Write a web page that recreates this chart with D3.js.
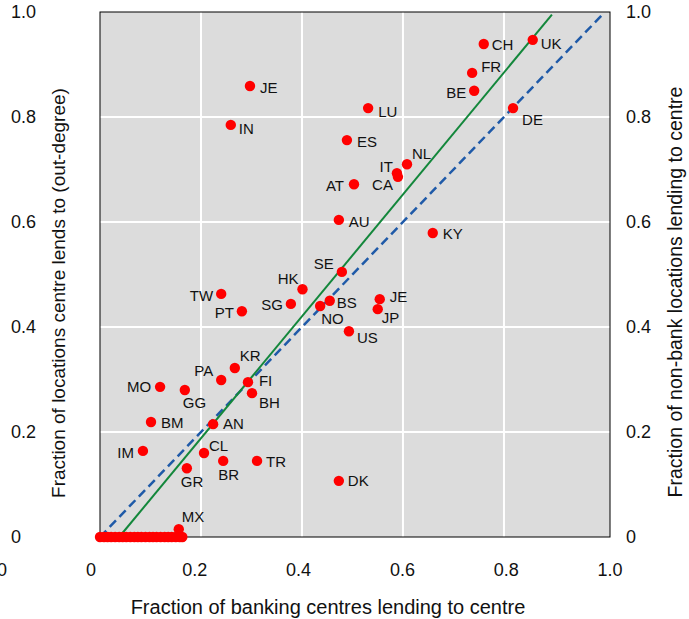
<!DOCTYPE html>
<html>
<head>
<meta charset="utf-8">
<script src="https://cdn.jsdelivr.net/npm/d3@7"></script>
<style>
  body { margin: 0; background: #fff; }
  text { font-family: "Liberation Sans", Arial, sans-serif; fill: #111; }
</style>
</head>
<body>
<svg id="chart" width="689" height="619"></svg>
<script>
// centres with a label
var centres = ["UK","CH","FR","BE","DE","JE","IN","LU","ES","NL","IT","CA","AT","AU","KY",
               "SE","HK","SG","BS","NO","JE","JP","US","TW","PT","KR","PA","FI","BH",
               "MO","GG","BM","AN","IM","CL","BR","TR","GR","DK","MX"];
var banksLending = [0.857,0.760,0.737,0.741,0.818,0.297,0.259,0.531,0.489,0.608,0.588,0.590,0.503,0.473,0.659,
                    0.479,0.401,0.378,0.455,0.436,0.554,0.550,0.493,0.240,0.281,0.267,0.240,0.293,0.301,
                    0.119,0.168,0.101,0.224,0.085,0.206,0.244,0.311,0.172,0.473,0.156];
var outDegree    = [0.947,0.939,0.884,0.850,0.817,0.859,0.785,0.817,0.756,0.710,0.693,0.686,0.672,0.604,0.579,
                    0.505,0.472,0.444,0.450,0.440,0.453,0.434,0.392,0.463,0.430,0.322,0.299,0.295,0.274,
                    0.286,0.280,0.219,0.215,0.164,0.160,0.145,0.145,0.131,0.107,0.015];
// unlabelled centres sitting on the zero line
var zeroBanksLending = [0.000,0.008,0.015,0.022,0.030,0.038,0.045,0.052,0.060,0.068,0.075,0.082,
                        0.090,0.098,0.105,0.112,0.120,0.128,0.135,0.142,0.150,0.158,0.163];
// fitted line and 45-degree line
var fitLine = [[0.038, 0], [0.895, 0.995]];
var diagLine = [[0, 0], [0.995, 0.995]];
var tickValues = [0, 0.2, 0.4, 0.6, 0.8, 1.0];
var tickLabels = ["0", "0.2", "0.4", "0.6", "0.8", "1.0"];

// label offsets [dx, dy, anchor], same order as centres
var labelPos = [[8,4,"start"],[8,1,"start"],[9,-6,"start"],[-8,2,"end"],[9,12,"start"],[10,2,"start"],[8,4,"start"],
  [10,4,"start"],[10,2,"start"],[5,-11,"start"],[-4,-6,"end"],[-5,8,"end"],[-10,2,"end"],[10,2,"start"],[10,1,"start"],
  [-8,-8,"end"],[-4,-10,"end"],[-8,1,"end"],[7,2,"start"],[1,13,"start"],[10,-2,"start"],[4,9,"start"],[8,7,"start"],
  [-8,2,"end"],[-8,1,"end"],[5,-12,"start"],[-8,-9,"end"],[11,-1,"start"],[7,10,"start"],
  [-9,0,"end"],[-2,13,"start"],[10,1,"start"],[10,0,"start"],[-9,2,"end"],[5,-7,"start"],[-5,14,"start"],[9,1,"start"],
  [-6,14,"start"],[9,0,"start"],[3,-12,"start"]];

var svg = d3.select("#chart");
var padL = 100, padR = 610, padT = 12, padB = 537;

var x = d3.scaleLinear().domain([0, 1.01]).range([padL, padR]);
var y = d3.scaleLinear().domain([0, 1]).range([padB, padT]);
var xLab = d3.scaleLinear().domain([0, 1]).range([91, 610]);

// plot background
svg.append("rect")
    .attr("x", padL).attr("y", padT)
    .attr("width", padR - padL).attr("height", padB - padT)
    .attr("fill", "#dcdcdc");

// grid
var inner = tickValues.slice(1, 5);
svg.append("g").selectAll("line").data(inner).enter().append("line")
    .attr("x1", d => x(d)).attr("x2", d => x(d))
    .attr("y1", padT).attr("y2", padB)
    .attr("stroke", "#fff").attr("stroke-width", 2);
svg.append("g").selectAll("line").data(inner).enter().append("line")
    .attr("x1", padL).attr("x2", padR)
    .attr("y1", d => y(d)).attr("y2", d => y(d))
    .attr("stroke", "#fff").attr("stroke-width", 2);

// frame
svg.append("rect")
    .attr("x", padL).attr("y", padT)
    .attr("width", padR - padL).attr("height", padB - padT)
    .attr("fill", "none").attr("stroke", "#000").attr("stroke-width", 1);

// y tick labels, both sides
var yl = svg.append("g");
yl.selectAll("text.l").data(tickValues).enter().append("text")
    .attr("class", "l")
    .attr("x", 11).attr("y", d => y(d)).attr("dy", "0.35em")
    .style("font-size", "18px")
    .text((d, i) => tickLabels[i]);
yl.selectAll("text.r").data(tickValues).enter().append("text")
    .attr("class", "r")
    .attr("x", 626).attr("y", d => y(d)).attr("dy", "0.35em")
    .style("font-size", "18px")
    .text((d, i) => tickLabels[i]);

// x tick labels
svg.append("g").selectAll("text").data(tickValues).enter().append("text")
    .attr("x", d => xLab(d)).attr("y", 570).attr("dy", "0.35em")
    .attr("text-anchor", "middle")
    .style("font-size", "18px")
    .text((d, i) => tickLabels[i]);
svg.append("text")
    .attr("x", 2).attr("y", 570).attr("dy", "0.35em")
    .attr("text-anchor", "middle")
    .style("font-size", "18px")
    .text("0");

// axis titles
svg.append("text")
    .attr("x", 328).attr("y", 607).attr("dy", "0.35em")
    .attr("text-anchor", "middle")
    .style("font-size", "20px")
    .text("Fraction of banking centres lending to centre");
svg.append("text")
    .attr("transform", "translate(58,293) rotate(-90)")
    .attr("dy", "0.35em")
    .attr("text-anchor", "middle")
    .style("font-size", "19px")
    .text("Fraction of locations centre lends to (out-degree)");
svg.append("text")
    .attr("transform", "translate(675,292) rotate(-90)")
    .attr("dy", "0.35em")
    .attr("text-anchor", "middle")
    .style("font-size", "19.5px")
    .text("Fraction of non-bank locations lending to centre");

// lines
var line = d3.line().x(d => x(d[0])).y(d => y(d[1]));
svg.append("path")
    .attr("d", line(diagLine))
    .attr("fill", "none").attr("stroke", "#1f5aa8")
    .attr("stroke-width", 2.5).attr("stroke-dasharray", "9,5");
svg.append("path")
    .attr("d", line(fitLine))
    .attr("fill", "none").attr("stroke", "#13873b")
    .attr("stroke-width", 2);

// points
svg.append("g").selectAll("circle").data(zeroBanksLending).enter().append("circle")
    .attr("cx", d => x(d)).attr("cy", y(0)).attr("r", 5.2)
    .attr("fill", "#ff0000");

var pts = svg.append("g");
pts.selectAll("circle").data(centres).enter().append("circle")
    .attr("cx", (d, i) => x(banksLending[i]))
    .attr("cy", (d, i) => y(outDegree[i]))
    .attr("r", 5.2)
    .attr("fill", "#ff0000");

pts.selectAll("text").data(centres).enter().append("text")
    .attr("x", (d, i) => x(banksLending[i]) + labelPos[i][0])
    .attr("y", (d, i) => y(outDegree[i]) + labelPos[i][1])
    .attr("dy", "0.35em")
    .attr("text-anchor", (d, i) => labelPos[i][2])
    .style("font-size", "15px")
    .text(d => d);
</script>
</body>
</html>
